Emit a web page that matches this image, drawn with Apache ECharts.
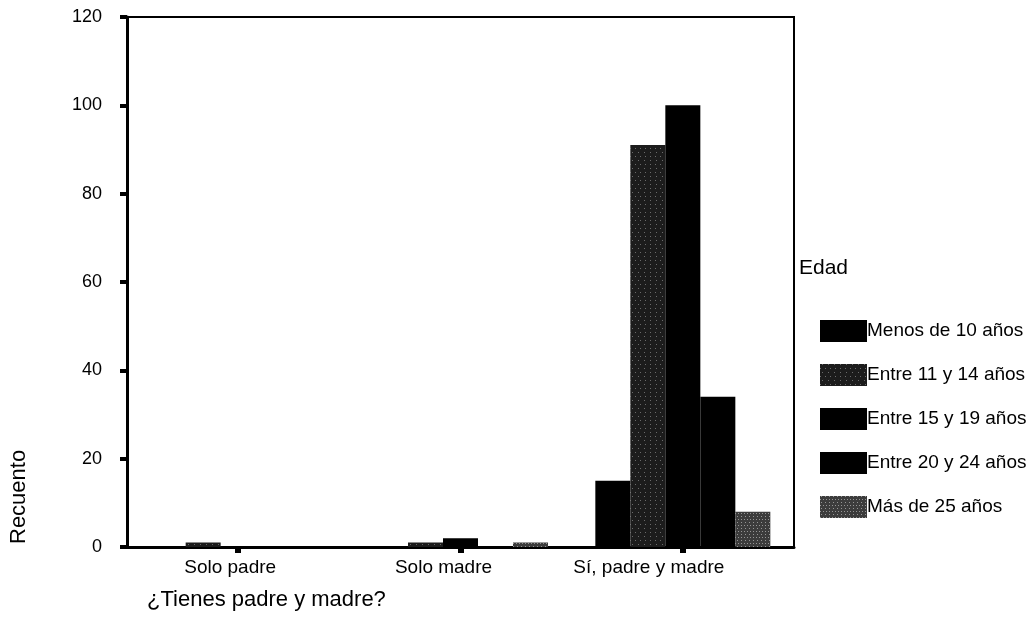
<!DOCTYPE html>
<html>
<head>
<meta charset="utf-8">
<script src="https://cdn.jsdelivr.net/npm/echarts@6/dist/echarts.min.js"></script>
<style>
html,body{margin:0;padding:0;background:#fff;}
#chart{width:1030px;height:642px;}
</style>
</head>
<body>
<div id="chart"></div>
<script>
var categories = ['Solo padre', 'Solo madre', 'Sí, padre y madre'];
var seriesNames = ['Menos de 10 años', 'Entre 11 y 14 años', 'Entre 15 y 19 años', 'Entre 20 y 24 años', 'Más de 25 años'];
var menos10 = [0, 0, 15];
var entre11y14 = [1, 1, 91];
var entre15y19 = [0, 2, 100];
var entre20y24 = [0, 0, 34];
var mas25 = [0, 1, 8];
var yTicks = [0, 20, 40, 60, 80, 100, 120];

var seriesValues = [menos10, entre11y14, entre15y19, entre20y24, mas25];
var colors = ['#000000', '#1c1c1c', '#000000', '#000000', '#3c3c3c'];
var decals = [
  null,
  { symbol: 'rect', symbolSize: 1, color: 'rgba(255,255,255,0.35)', dashArrayX: [[1, 4], [0, 2, 1, 3]], dashArrayY: [1, 3], rotation: 0 },
  null,
  null,
  { symbol: 'rect', symbolSize: 1, color: 'rgba(255,255,255,0.45)', dashArrayX: [[1, 2], [0, 1, 1, 2]], dashArrayY: [1, 2], rotation: 0 }
];

var FONT = '"Liberation Sans", Arial, sans-serif';
var chart = echarts.init(document.getElementById('chart'), null, { renderer: 'canvas' });

var series = seriesNames.map(function (name, i) {
  var st = { color: colors[i] };
  if (decals[i]) st.decal = decals[i];
  return {
    name: name,
    type: 'bar',
    data: seriesValues[i],
    barWidth: 35,
    barGap: '0%',
    itemStyle: st,
    emphasis: { disabled: true }
  };
});

var labelStyles = ['l0', 'l1', 'l2'];

chart.setOption({
  animation: false,
  backgroundColor: '#ffffff',
  textStyle: { fontFamily: FONT },
  grid: {
    left: 127, right: 236, top: 17, bottom: 95,
    show: true, borderColor: '#000', borderWidth: 2, backgroundColor: 'transparent'
  },
  legend: {
    orient: 'vertical',
    left: 815,
    top: 315,
    itemWidth: 47,
    itemHeight: 22,
    itemGap: 22,
    icon: 'rect',
    selectedMode: false,
    textStyle: { fontFamily: FONT, fontSize: 19, color: '#000', padding: [0, 0, 0, -5] },
    data: seriesNames
  },
  graphic: [
    { type: 'text', left: 799, top: 258, style: { text: 'Edad', font: '21px ' + FONT, fill: '#000' } },
    { type: 'text', left: 147, top: 589, style: { text: '¿Tienes padre y madre?', font: '22px ' + FONT, fill: '#000' } },
    { type: 'text', x: 8, y: 544, rotation: Math.PI / 2, style: { text: 'Recuento', font: '22px ' + FONT, fill: '#000' } }
  ],
  xAxis: {
    type: 'category',
    data: categories,
    boundaryGap: true,
    axisLine: { lineStyle: { color: '#000', width: 3 } },
    axisTick: { show: true, interval: 0, alignWithLabel: true, length: 6, lineStyle: { color: '#000', width: 6 } },
    axisLabel: {
      interval: 0,
      hideOverlap: false,
      color: '#000', fontSize: 19, fontFamily: FONT, margin: 11,
      formatter: function (v, i) { return '{' + labelStyles[i] + '|' + v + '}'; },
      rich: {
        l0: { fontSize: 19, fontFamily: FONT, color: '#000', padding: [0, 16, 0, 0] },
        l1: { fontSize: 19, fontFamily: FONT, color: '#000', padding: [0, 34, 0, 0] },
        l2: { fontSize: 19, fontFamily: FONT, color: '#000', padding: [0, 68, 0, 0] }
      }
    },
    splitLine: { show: false }
  },
  yAxis: {
    type: 'value',
    min: 0,
    max: 120,
    interval: 20,
    axisLine: { show: true, lineStyle: { color: '#000', width: 3 } },
    axisTick: { show: true, length: 7, lineStyle: { color: '#000', width: 4 } },
    axisLabel: {
      color: '#000', fontSize: 18, fontFamily: FONT, margin: 25,
      formatter: function (v) { return yTicks.indexOf(v) >= 0 ? String(v) : ''; }
    },
    splitLine: { show: false }
  },
  series: series
});
</script>
</body>
</html>
